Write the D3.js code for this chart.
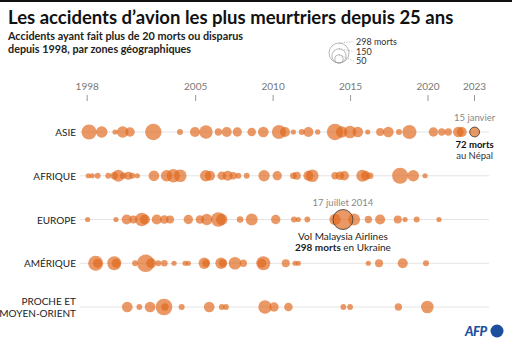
<!DOCTYPE html>
<html>
<head>
<meta charset="utf-8">
<script src="https://cdn.jsdelivr.net/npm/d3@7/dist/d3.min.js"></script>
<style>
  body { margin: 0; background: #fff; }
  svg { display: block; font-family: Lato, "Noto Sans", sans-serif; }
</style>
</head>
<body>
<div id="chart"></div>
<script>
// ticks on the time axis
var tickYears = [1998, 2005, 2010, 2015, 2020, 2023];

// region rows, top to bottom
var regions = ["ASIE", "AFRIQUE", "EUROPE", "AMÉRIQUE", "PROCHE ET|MOYEN-ORIENT"];

// [date as decimal year, deaths]
var asie = [
  [1998.15, 170], [1998.97, 100], [1999.83, 20], [2000.32, 100], [2000.8, 66],
  [2002.3, 200], [2004.02, 27], [2004.99, 75], [2005.7, 134], [2006.5, 40],
  [2007.04, 75], [2007.72, 65], [2008.65, 55], [2009.4, 85], [2010.41, 150],
  [2010.8, 75], [2011.34, 20], [2011.88, 27], [2012.31, 75], [2012.91, 21],
  [2014.03, 200], [2014.46, 100], [2015.0, 118], [2015.5, 85], [2016.14, 20],
  [2016.94, 48], [2017.47, 85], [2018.16, 27], [2018.83, 150], [2020.38, 66],
  [2020.92, 40], [2021.34, 40], [2021.99, 85], [2022.21, 75]
];
var afrique = [
  [1998.1, 20], [1998.36, 20], [1998.71, 25], [1999.39, 25], [1999.78, 40],
  [2000.04, 107], [2000.36, 33], [2000.69, 48], [2000.94, 27], [2001.27, 20],
  [2002.34, 85], [2003.16, 100], [2003.59, 134], [2004.04, 118], [2005.68, 96],
  [2005.96, 75], [2006.72, 55], [2007.1, 75], [2007.46, 40], [2007.79, 25],
  [2008.33, 25], [2009.45, 96], [2010.3, 66], [2011.34, 33], [2011.56, 48],
  [2012.31, 75], [2012.56, 118], [2014.03, 40], [2014.35, 55], [2014.63, 66],
  [2015.79, 107], [2016.01, 66], [2016.29, 33], [2018.23, 190], [2019.08, 100],
  [2019.84, 20]
];
var europe = [
  [1998.06, 20], [1999.89, 20], [2000.58, 75], [2001.01, 48], [2001.55, 134],
  [2001.76, 75], [2002.52, 75], [2003.01, 55], [2003.38, 48], [2004.56, 66],
  [2005.31, 55], [2005.75, 96], [2006.5, 160], [2006.72, 96], [2007.9, 33],
  [2008.65, 107], [2010.2, 66], [2011.38, 27], [2011.66, 20], [2012.24, 25],
  [2014.03, 96], [2015.26, 107], [2016.18, 40], [2016.94, 75], [2018.08, 48],
  [2018.55, 20], [2019.3, 27], [2020.74, 20]
];
var amerique = [
  [1998.58, 170], [1998.7, 60], [1999.78, 146], [1999.9, 60], [2001.12, 25],
  [2001.81, 225], [2002.16, 75], [2002.62, 25], [2003.01, 33], [2003.64, 20],
  [2004.35, 20], [2004.56, 20], [2005.59, 96], [2005.7, 40], [2006.67, 96],
  [2006.8, 50], [2007.57, 118], [2008.11, 40], [2009.4, 146], [2009.3, 60],
  [2010.85, 48], [2011.45, 20], [2011.66, 20], [2016.18, 20], [2016.87, 48],
  [2018.4, 75], [2019.9, 27]
];
var moyenOrient = [
  [2000.62, 85], [2001.4, 25], [2002.09, 85], [2002.99, 206], [2003.05, 40],
  [2004.13, 27], [2005.91, 85], [2006.72, 25], [2006.99, 25], [2009.51, 134],
  [2010.09, 66], [2011.02, 55], [2014.57, 25], [2015.0, 25], [2018.12, 40],
  [2019.99, 118]
];
var rowData = [asie, afrique, europe, amerique, moyenOrient];

// the two highlighted crashes
var highlights = [
  { region: "ASIE", date: 2023.04, deaths: 72 },
  { region: "EUROPE", date: 2014.54, deaths: 298 }
];

var legendValues = [298, 150, 50];

var width = 512, height = 343;
var orange = "#e0691e";

var svg = d3.select("#chart").append("svg")
  .attr("width", width)
  .attr("height", height);

svg.append("rect").attr("width", width).attr("height", 2).attr("fill", "#111");

// title + subtitle
svg.append("text")
  .attr("x", 8).attr("y", 24)
  .attr("font-size", 18.5).attr("font-weight", 700).attr("fill", "#111")
  .text("Les accidents d’avion les plus meurtriers depuis 25 ans");

svg.append("text")
  .attr("font-size", 10.8).attr("font-weight", 700).attr("fill", "#222")
  .selectAll("tspan")
  .data(["Accidents ayant fait plus de 20 morts ou disparus", "depuis 1998, par zones géographiques"])
  .enter().append("tspan")
  .attr("x", 8).attr("y", function(d, i) { return 40 + i * 13; })
  .text(function(d) { return d; });

var x = d3.scaleLinear().domain([1998, 2023]).range([86.7, 474]);
var y = d3.scalePoint().domain(regions).range([132, 307]);
var r = d3.scaleSqrt().domain([0, 298]).range([0, 10]);

// axis on top
var axis = d3.axisTop(x)
  .tickValues(tickYears)
  .tickFormat(d3.format("d"))
  .tickSize(6)
  .tickPadding(5);

var gAxis = svg.append("g")
  .attr("transform", "translate(0,101)")
  .call(axis);
gAxis.select(".domain").remove();
gAxis.selectAll("line").attr("stroke", "#999");
gAxis.selectAll("text").attr("fill", "#777").attr("font-size", 10).attr("font-family", "Lato, sans-serif");

// rows
var rows = svg.selectAll("g.row")
  .data(regions)
  .enter().append("g")
  .attr("class", "row")
  .attr("transform", function(d) { return "translate(0," + y(d) + ")"; });

rows.append("line")
  .attr("x1", 80).attr("x2", 489)
  .attr("stroke", "#e4e4e4").attr("stroke-width", 1);

rows.append("text")
  .attr("text-anchor", "end")
  .attr("font-size", 10).attr("fill", "#222")
  .each(function(d) {
    var parts = d.split("|");
    var t = d3.select(this);
    parts.forEach(function(p, i) {
      t.append("tspan")
        .attr("x", 76)
        .attr("y", (i - (parts.length - 1) / 2) * 12.5 + 4)
        .text(p);
    });
  });

rows.each(function(d, i) {
  d3.select(this).selectAll("circle")
    .data(rowData[i])
    .enter().append("circle")
    .attr("cx", function(e) { return x(e[0]); })
    .attr("cy", 0)
    .attr("r", function(e) { return r(e[1]); })
    .attr("fill", orange)
    .attr("fill-opacity", 0.68);
});

// highlighted circles with outline
svg.selectAll("circle.hl")
  .data(highlights)
  .enter().append("circle")
  .attr("class", "hl")
  .attr("cx", function(d) { return x(d.date); })
  .attr("cy", function(d) { return y(d.region); })
  .attr("r", function(d) { return r(d.deaths); })
  .attr("fill", orange).attr("fill-opacity", 0.68)
  .attr("stroke", "#333").attr("stroke-width", 0.8);

// annotations
function note(xp, yp, parts, size, color) {
  var t = svg.append("text")
    .attr("x", xp).attr("y", yp)
    .attr("text-anchor", "middle")
    .attr("font-size", size).attr("fill", color);
  parts.forEach(function(p) {
    t.append("tspan").attr("font-weight", p[1] ? 700 : 400).text(p[0]);
  });
}
var nepal = highlights[0], mh17 = highlights[1];
note(x(nepal.date), 121, [["15 janvier"]], 9.5, "#888");
note(x(nepal.date), 148, [["72 morts", true]], 9.5, "#111");
note(x(nepal.date), 159, [["au Népal"]], 9.5, "#333");
note(x(mh17.date), 206, [["17 juillet 2014"]], 9.5, "#888");
note(x(mh17.date), 240, [["Vol Malaysia Airlines"]], 10, "#222");
note(x(mh17.date), 251, [["298 morts", true], [" en Ukraine"]], 10, "#222");

// size legend
var lgX = 339, lgBase = 63;
var lg = svg.append("g");
lg.selectAll("circle")
  .data(legendValues)
  .enter().append("circle")
  .attr("cx", lgX)
  .attr("cy", function(d) { return lgBase - r(d); })
  .attr("r", function(d) { return r(d); })
  .attr("fill", "none").attr("stroke", "#999").attr("stroke-width", 0.7);
var labelY = [41.5, 51.5, 61];
lg.selectAll("line")
  .data(legendValues)
  .enter().append("line")
  .attr("x1", lgX)
  .attr("y1", function(d) { return lgBase - 2 * r(d); })
  .attr("x2", 354)
  .attr("y2", function(d, i) { return labelY[i]; })
  .attr("stroke", "#999").attr("stroke-width", 0.7).attr("stroke-dasharray", "1,1.5");
lg.selectAll("text")
  .data(legendValues)
  .enter().append("text")
  .attr("x", 356)
  .attr("y", function(d, i) { return labelY[i] + 3; })
  .attr("font-size", 9).attr("fill", "#333")
  .text(function(d, i) { return i === 0 ? d + " morts" : d; });

// AFP logo
svg.append("text")
  .attr("x", 465).attr("y", 336)
  .attr("font-size", 13).attr("font-weight", 900).attr("font-style", "italic")
  .attr("fill", "#1d4f9c").attr("letter-spacing", -0.5)
  .text("AFP");
svg.append("circle")
  .attr("cx", 497).attr("cy", 331).attr("r", 6.5)
  .attr("fill", "#1d4f9c");
</script>
</body>
</html>
